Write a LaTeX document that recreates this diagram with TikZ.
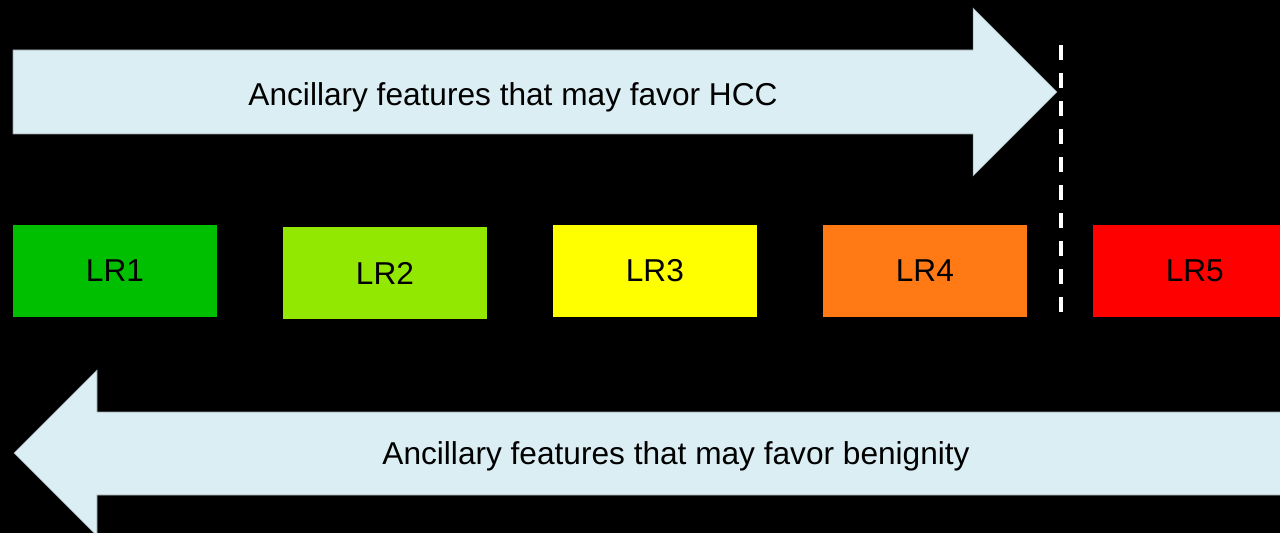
\documentclass[tikz,border=0pt]{standalone}
\usepackage{fontspec}
\setmainfont{Liberation Sans}
\usepackage{tikz}
\usetikzlibrary{positioning}
\definecolor{arrowfill}{RGB}{219,238,243}
\definecolor{arrowline}{RGB}{150,160,165}
\definecolor{lrone}{RGB}{0,191,0}
\definecolor{lrtwo}{RGB}{146,232,0}
\definecolor{lrthree}{RGB}{255,255,0}
\definecolor{lrfour}{RGB}{255,122,20}
\definecolor{lrfive}{RGB}{255,0,0}
\tikzset{
  lrbox/.style={rectangle, inner sep=0pt, outer sep=0pt, minimum width=4.08cm, minimum height=1.84cm,
    font=\fontsize{18pt}{21pt}\selectfont},
  bigarrow/.style={fill=arrowfill, draw=arrowline, line width=0.3pt},
  arrowtext/.style={inner sep=0pt, font=\fontsize{18pt}{21pt}\selectfont},
  divider/.style={draw=white, line width=0.08cm, dash pattern=on 0.3cm off 0.26cm}
}

\begin{document}
\begin{tikzpicture}[x=0.02cm, y=-0.02cm]
  \fill[black] (0,0) rectangle (1280,533);
  \clip (0,0) rectangle (1280,533);

  % arrows
  \draw[bigarrow] (13,50) -- (973,50) -- (973,8) -- (1057,92) -- (973,176)
    -- (973,134) -- (13,134) -- cycle;
  \node[arrowtext] (hcc) at (513,97) {Ancillary features that may favor HCC};

  \draw[bigarrow] (1300,412) -- (97,412) -- (97,370) -- (14,453) -- (97,536)
    -- (97,495) -- (1300,495) -- cycle;
  \node[arrowtext] (benign) at (676,456) {Ancillary features that may favor benignity};

  % categories
  \node[lrbox, fill=lrone] (lr1) at (115,271) {LR1};
  \node[lrbox, fill=lrtwo, right=1.32cm of lr1, yshift=-0.04cm] (lr2) {LR2};
  \node[lrbox, fill=lrthree, right=1.32cm of lr2, yshift=0.04cm] (lr3) {LR3};
  \node[lrbox, fill=lrfour, right=1.32cm of lr3] (lr4) {LR4};
  \node[lrbox, fill=lrfive, right=1.32cm of lr4] (lr5) {LR5};

  \coordinate (dtop) at (1061,45);
  \coordinate (dbot) at (1061,315);
  \draw[divider] (dtop) -- (dbot);
\end{tikzpicture}
\end{document}
